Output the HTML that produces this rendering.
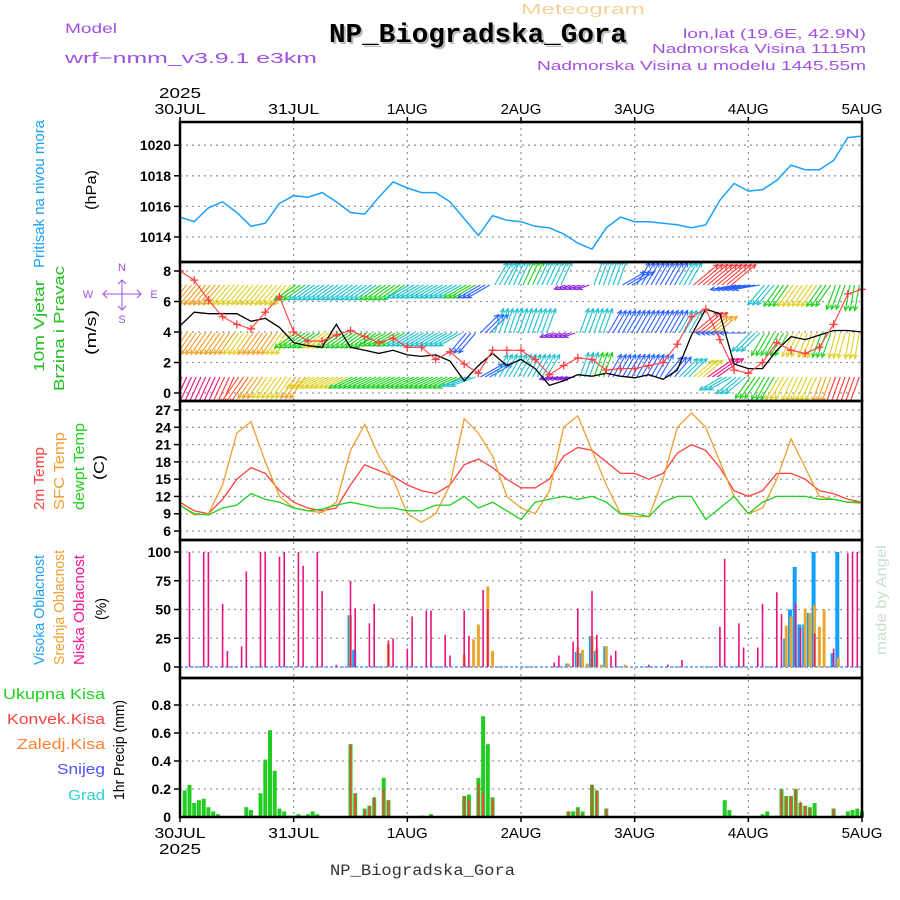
<!DOCTYPE html>
<html><head><meta charset="utf-8"><style>
html,body{margin:0;padding:0;background:#fff;}
svg{display:block;font-family:"Liberation Sans",sans-serif;}
</style></head><body>
<svg id="chart" width="900" height="900" viewBox="0 0 900 900" xmlns="http://www.w3.org/2000/svg">
<defs>
<clipPath id="cp2"><rect x="180" y="262" width="682" height="139"/></clipPath>
</defs>
<g id="hdr">
<text x="65" y="33" fill="#a050e0" font-size="14" textLength="52">Model</text>
<text x="65" y="63" fill="#a050e0" font-size="15" textLength="252">wrf−nmm_v3.9.1  e3km</text>
<text x="521" y="14" fill="#f2d39a" font-size="15" textLength="124">Meteogram</text>
<text x="331" y="44" fill="#bbb" font-size="27" font-weight="bold" font-family="Liberation Mono,monospace" textLength="298">NP_Biogradska_Gora</text>
<text x="329" y="42" fill="#000" font-size="27" font-weight="bold" font-family="Liberation Mono,monospace" textLength="298">NP_Biogradska_Gora</text>
<text x="866" y="38" fill="#a050e0" font-size="13" text-anchor="end" textLength="183">lon,lat (19.6E, 42.9N)</text>
<text x="866" y="53" fill="#a050e0" font-size="13" text-anchor="end" textLength="214">Nadmorska Visina 1115m</text>
<text x="866" y="70" fill="#a050e0" font-size="13" text-anchor="end" textLength="329">Nadmorska Visina u modelu 1445.55m</text>
<text x="330" y="875" fill="#333" font-size="16" font-family="Liberation Mono,monospace" textLength="185">NP_Biogradska_Gora</text>
<text transform="translate(886,655) rotate(-90)" fill="#c8e0d0" font-size="15" textLength="110">made by Angel</text>
</g>
<g id="labels">
<text transform="translate(44,268) rotate(-90)" fill="#1aa0ff" font-size="15" textLength="148">Pritisak na nivou mora</text>
<text transform="translate(96,210) rotate(-90)" fill="#000" font-size="15" textLength="40">(hPa)</text>
<text transform="translate(44,372) rotate(-90)" fill="#20c020" font-size="15" textLength="92">10m Vjetar</text>
<text transform="translate(64,391) rotate(-90)" fill="#20c020" font-size="15" textLength="125">Brzina i Pravac</text>
<text transform="translate(96,355) rotate(-90)" fill="#000" font-size="15" textLength="45">(m/s)</text>
<g fill="#a050e0" font-size="11">
<text x="122" y="271" text-anchor="middle">N</text><text x="122" y="323" text-anchor="middle">S</text>
<text x="88" y="298" text-anchor="middle">W</text><text x="154" y="298" text-anchor="middle">E</text>
<path d="M103 294H141M122 280V310M107 290L103 294L107 298M137 290L141 294L137 298M118 284L122 280L126 284M118 306L122 310L126 306" stroke="#a050e0" fill="none"/>
</g>
<text transform="translate(44,510) rotate(-90)" fill="#ff4040" font-size="15" textLength="63">2m Temp</text>
<text transform="translate(64,510) rotate(-90)" fill="#f0a030" font-size="15" textLength="78">SFC Temp</text>
<text transform="translate(84,510) rotate(-90)" fill="#20d020" font-size="15" textLength="87">dewpt Temp</text>
<text transform="translate(104,480) rotate(-90)" fill="#000" font-size="15" textLength="25">(C)</text>
<text transform="translate(44,665) rotate(-90)" fill="#1aa0ff" font-size="15" textLength="110">Visoka Oblacnost</text>
<text transform="translate(64,665) rotate(-90)" fill="#f0a030" font-size="15" textLength="115">Srednja Oblacnost</text>
<text transform="translate(84,665) rotate(-90)" fill="#ff1090" font-size="15" textLength="110">Niska Oblacnost</text>
<text transform="translate(106,620) rotate(-90)" fill="#000" font-size="15" textLength="22">(%)</text>
<text x="105" y="699" fill="#20d020" font-size="15" text-anchor="end" textLength="102">Ukupna Kisa</text>
<text x="105" y="724" fill="#ff4040" font-size="15" text-anchor="end" textLength="98">Konvek.Kisa</text>
<text x="105" y="749" fill="#ff8030" font-size="15" text-anchor="end" textLength="88">Zaledj.Kisa</text>
<text x="105" y="774" fill="#5050ff" font-size="15" text-anchor="end" textLength="48">Snijeg</text>
<text x="105" y="800" fill="#30d0d0" font-size="15" text-anchor="end" textLength="37">Grad</text>
<text transform="translate(124,800) rotate(-90)" fill="#000" font-size="15" textLength="100">1hr Precip (mm)</text>
</g>
<g id="grid"></g>
<g id="marks"></g>
<g id="frames"></g>
<g id="ticks"></g>
</svg>
<script>
// ---- data (3-hourly, h = 0,3,...,144) ----
const dayLabels = ["30JUL","31JUL","1AUG","2AUG","3AUG","4AUG","5AUG"];
const pressure = [1015.3,1015.0,1015.9,1016.3,1015.6,1014.7,1014.9,1016.2,1016.7,1016.6,1016.9,1016.3,1015.6,1015.5,1016.6,1017.6,1017.2,1016.9,1016.9,1016.3,1015.2,1014.1,1015.4,1015.1,1015.0,1014.7,1014.6,1014.2,1013.6,1013.2,1014.6,1015.3,1015.0,1015.0,1014.9,1014.8,1014.6,1014.8,1016.4,1017.5,1017.0,1017.1,1017.7,1018.7,1018.4,1018.4,1019.0,1020.5,1020.6];
const windSpeed = [4.4,5.3,5.2,5.2,5.2,4.7,4.9,4.3,3.3,3.1,3.0,4.5,3.0,2.8,2.6,2.8,2.5,2.4,2.5,2.1,0.8,1.8,2.6,1.8,2.2,1.6,0.5,0.8,1.2,1.1,1.3,1.1,1.0,1.2,0.9,1.5,3.8,5.5,5.2,1.9,1.6,1.6,2.8,3.7,3.5,3.8,4.1,4.1,4.0];
const windGust = [8.0,7.4,6.1,5.0,4.5,4.2,5.3,6.3,4.0,3.4,3.4,3.8,4.1,3.7,3.3,3.6,3.0,3.0,2.2,2.7,1.9,1.3,2.8,2.8,2.8,2.2,1.2,1.8,2.3,2.2,1.5,1.6,1.6,1.8,2.0,3.2,5.0,5.5,3.5,1.5,1.3,2.0,3.3,2.8,2.6,3.0,4.5,6.5,6.8];
const temp2m = [11,9.5,9,11.5,15,17,16,13,11,10,9.5,10,14,17.5,16.5,15.5,14,13,12.5,14,17.5,18.5,17,15,13.5,13.5,15,19,20.5,20,18,16,16,15,16,19.5,21,20,17,13,12,13,16,16,15,13,12.5,11.5,11];
const tempSfc = [10.5,8.8,9,14,23,25,18,12,10,9.5,9.2,11,20,24.5,19,15,9,7.5,9,14,25.5,23,19,12,10,9,13,24,26,20,14,9,8.5,8.5,15,24,26.5,24,18,12,9,10,15,22,17,12,11.5,11,10.8];
const dewpt = [10.5,9,8.8,10,10.5,12.5,11.5,11,10,9.5,9.8,10.5,11,10.5,10,10,9.5,9.5,10.5,10.5,12,10,11,9.5,8,11,11.5,12,11.5,12,11,9,9,8.5,11,12,12,8,10,12,9,11,12,12,12,11.5,11.5,11,11];
// wind direction rows (screen angle of arrow, degrees) and colour codes
const dirTop = [230,230,230,230,230,230,230,230,215,215,215,215,215,215,215,215,210,210,210,210,210,210,60,65,65,65,65,200,200,70,70,30,60,60,60,60,40,40,40,190,190,230,235,235,235,235,250,260,260];
const colTop = "oooyyyyygcccccggccccgbccgccppccbbbbcrrrbbcgyyggggg";
const dirMid = [235,235,235,235,235,235,235,235,215,215,215,215,215,215,210,210,210,210,210,210,230,45,70,70,70,70,200,200,70,70,60,60,60,60,60,60,40,40,180,180,225,240,240,245,250,250,255,260,260];
const colMid = "ooooyooyggygggggccccbbccccppccbbbbbcrobbcggyygyyy";
const dirBot = [245,245,245,245,235,235,235,235,235,205,205,205,205,205,205,205,205,205,205,205,200,30,60,60,60,60,190,190,70,70,60,60,60,60,50,45,40,35,210,220,235,240,240,245,245,250,250,250,250];
const colBot = "mmmrnoyyoyyyggggggggcbccccppcgbbbbbcymccggyyyorrr";
// clouds (hour, percent)
const lowHours = [2,5,6,9,10,13,14,17,18,21,22,25,26,29,30,33,36,37,40,41,44,45,48,49,52,53,56,57,60,61,64,65,79,80,83,84,87,88,91,92,99,103,106,114,115,118,119,122,123,126,127,130,131,134,138,141,142,143];
const lowVals  = [100,100,100,55,14,18,83,100,100,96,100,100,88,100,66,2,75,51,38,55,23,25,16,44,49,49,28,10,49,27,67,50,4,10,22,51,66,28,10,14,2,2,6,35,94,38,17,17,55,65,46,55,34,29,16,99,100,100];
const midHours = [36,44,60,62,63,65,66,82,84,85,86,87,88,89,90,94,128,129,132,133,134,135,136,139];
const midVals  = [45,20,11,24,37,70,14,3,17,15,3,27,16,2,18,2,36,44,51,47,54,35,50,8];
const highHours = [36,37,82,84,85,87,88,90,128,129,130,131,132,133,134,138,139];
const highVals  = [45,15,3,13,12,27,14,18,25,50,87,37,37,47,100,12,100];
// precip (hour, mm)
const totalHours = [1,2,3,4,5,6,7,8,14,15,16,17,18,19,20,21,22,23,24,25,26,27,28,29,36,37,38,39,40,41,43,44,51,53,60,61,63,64,65,66,82,83,84,85,87,88,90,115,116,117,123,124,126,127,128,129,130,131,132,133,134,138,140,141,142,143,144];
const totalVals  = [0.19,0.23,0.10,0.12,0.13,0.07,0.04,0.02,0.07,0.05,0.01,0.17,0.41,0.62,0.33,0.06,0.04,0.01,0.01,0.02,0.01,0.02,0.04,0.02,0.52,0.17,0.01,0.06,0.08,0.14,0.28,0.12,0.01,0.02,0.15,0.16,0.28,0.72,0.52,0.14,0.04,0.04,0.07,0.04,0.23,0.19,0.06,0.12,0.05,0.01,0.02,0.04,0.01,0.20,0.15,0.15,0.20,0.10,0.08,0.07,0.10,0.06,0.01,0.04,0.05,0.06,0.04];
const convHours = [36,37,39,40,41,43,44,60,61,63,64,66,82,84,85,87,88,90,127,128,129,130,131,132,133,138];
const convVals  = [0.52,0.17,0.05,0.08,0.14,0.20,0.12,0.15,0.12,0.24,0.17,0.13,0.04,0.06,0.02,0.23,0.19,0.06,0.19,0.14,0.15,0.20,0.11,0.08,0.06,0.06];

// ---- scales ----
const X0=180, X1=862;
const xH = h => X0 + h*(X1-X0)/144;
const yP = p => 237 - (p-1014)*15.3;
const yW = s => 393 - s*15.25;
const yT = t => 531 - (t-6)*5.76;
const yC = c => 667 - c*1.15;
const yR = v => 817 - v*140;
const NS="http://www.w3.org/2000/svg";
function mk(tag, attrs, parent){const e=document.createElementNS(NS,tag);for(const k in attrs)e.setAttribute(k,attrs[k]);parent.appendChild(e);return e;}
const grid=document.getElementById('grid'), marks=document.getElementById('marks'), frames=document.getElementById('frames'), ticks=document.getElementById('ticks');
const panels=[[122,262],[262,401],[401,540],[540,678],[678,817]];
for(let d=1; d<6; d++){
  const l=mk('line',{x1:xH(d*24),x2:xH(d*24),y1:122,y2:817,stroke:'#999','stroke-dasharray':'2,4','stroke-width':1.3},grid);
  
  
}
function hgrid(vals, yf, labels, name){
  vals.forEach((v,i)=>{
    const y=yf(v);
    const g=mk('line',{x1:X0,x2:X1,y1:y,y2:y,stroke:'#999','stroke-dasharray':'2,4','stroke-width':1.3},grid);
    
    
    mk('line',{x1:X0-6,x2:X0,y1:y,y2:y,stroke:'#000','stroke-width':1.5},ticks);
    const t=mk('text',{x:X0-9,y:y+5,'text-anchor':'end','font-size':14,'font-weight':'bold'},ticks);
    t.textContent=labels[i];
    
    
  });
}
const pTicks=[1014,1016,1018,1020], wTicks=[0,2,4,6,8], tTicks=[6,9,12,15,18,21,24,27], cTicks=[0,25,50,75,100], rTicks=[0.2,0.4,0.6,0.8];
hgrid(pTicks,yP,pTicks.map(String),'pressure');
hgrid(wTicks,yW,wTicks.map(String),'wind');
hgrid(tTicks,yT,tTicks.map(String),'temp');
hgrid(cTicks,yC,cTicks.map(String),'cloud');
hgrid(rTicks,yR,rTicks.map(String),'precip');
{const t=mk('text',{x:X0-9,y:822,'text-anchor':'end','font-size':14,'font-weight':'bold'},ticks);t.textContent='0';

}
dayLabels.forEach((lab,i)=>{
  const x=xH(i*24);
  const a=mk('text',{x:x,y:114,'text-anchor':'middle','font-size':15,textLength:lab.length*10.2},ticks);a.textContent=lab;
  
  
  const b=mk('text',{x:x,y:838,'text-anchor':'middle','font-size':15,textLength:lab.length*10.2},ticks);b.textContent=lab;
  
  
  mk('line',{x1:x,x2:x,y1:117,y2:122,stroke:'#000','stroke-width':1.5},ticks);
  mk('line',{x1:x,x2:x,y1:817,y2:822,stroke:'#000','stroke-width':1.5},ticks);
});
[[180,98],[180,854]].forEach(([x,y])=>{const t=mk('text',{x:x,y:y,'text-anchor':'middle','font-size':15,textLength:42},ticks);t.textContent='2025';

});
panels.forEach(([a,b],i)=>{
  const r=mk('rect',{x:X0,y:a,width:X1-X0,height:b-a,fill:'none',stroke:'#000','stroke-width':2.5},frames);
  
  
});
function line(arr, yf, color, name, w){
  const d=arr.map((v,i)=>(i?'L':'M')+xH(i*3).toFixed(1)+' '+yf(v).toFixed(1)).join('');
  const p=mk('path',{d:d,fill:'none',stroke:color,'stroke-width':w||1.3},marks);
  
  
  return p;
}
line(pressure,yP,'#1aa0ff','pressure-line',1.5);
const cmap={m:'#e8137d',r:'#ff3a3a',n:'#ff5a30',o:'#f0a020',y:'#e0d020',g:'#20d020',c:'#20c0d0',b:'#2a60ff',p:'#8a20e0'};
const wg=mk('g',{'clip-path':'url(#cp2)'},marks);


[[dirTop,colTop,285],[dirMid,colMid,333],[dirBot,colBot,377]].forEach(([dirs,cols,yr],ri)=>{
  for(let h=0; h<144; h++){
    const k=Math.floor(h/3);
    const ang=dirs[k]*Math.PI/180, c=cols[k]||'g';
    const L=(c==='m'||c==='r'||c==='n')?32:(c==='p'?12:26);
    const x=xH(h)+2, x2=x+L*Math.cos(ang), y2=yr-L*Math.sin(ang);
    const a1=ang+Math.PI-0.45, a2=ang+Math.PI+0.45;
    const d=`M${x.toFixed(1)} ${yr}L${x2.toFixed(1)} ${y2.toFixed(1)}M${(x2+5*Math.cos(a1)).toFixed(1)} ${(y2-5*Math.sin(a1)).toFixed(1)}L${x2.toFixed(1)} ${y2.toFixed(1)}L${(x2+5*Math.cos(a2)).toFixed(1)} ${(y2-5*Math.sin(a2)).toFixed(1)}`;
    const p=mk('path',{d:d,stroke:cmap[c],fill:'none','stroke-width':1.1},wg);
    
    
  }
});
line(windSpeed,yW,'#000','wind-speed-line',1.3);
line(windGust,yW,'#ff4040','wind-gust-line',1.1);
windGust.forEach((v,i)=>{
  const x=xH(i*3), y=yW(v);
  const p=mk('path',{d:`M${x-4} ${y}H${x+4}M${x} ${y-4}V${y+4}`,stroke:'#ff4040','stroke-width':1.3},marks);
  
  
});
line(temp2m,yT,'#ff4040','temp-2m-line',1.3);
line(tempSfc,yT,'#f0a030','temp-sfc-line',1.3);
line(dewpt,yT,'#20d020','dewpoint-line',1.3);
{const b=mk('line',{x1:X0,x2:X1,y1:yC(0),y2:yC(0),stroke:'#80b0ff','stroke-width':2,'stroke-dasharray':'3,2'},marks);

}
function bars(hours, vals, yf, y0, color, w, off, name){
  hours.forEach((h,i)=>{
    const x=xH(h)+off, y=yf(vals[i]);
    const r=mk('rect',{x:(x-w/2).toFixed(1),y:y.toFixed(1),width:w,height:Math.max(0,y0-y).toFixed(1),fill:color},marks);
    
    
  });
}
bars(highHours,highVals,yC,yC(0),'#10a0ff',4,-1,'high-cloud-bar');
bars(midHours,midVals,yC,yC(0),'#e8a830',3,0,'mid-cloud-bar');
bars(lowHours,lowVals,yC,yC(0),'#e8137d',1.6,0,'low-cloud-bar');
bars(totalHours,totalVals,yR,817,'#22cc22',4,0,'total-precip-bar');
bars(convHours,convVals,yR,817,'#ff4040',1.8,0,'convective-precip-bar');
document.querySelectorAll('text[textLength]').forEach(t=>t.setAttribute('lengthAdjust','spacingAndGlyphs'));
</script>
</body></html>
